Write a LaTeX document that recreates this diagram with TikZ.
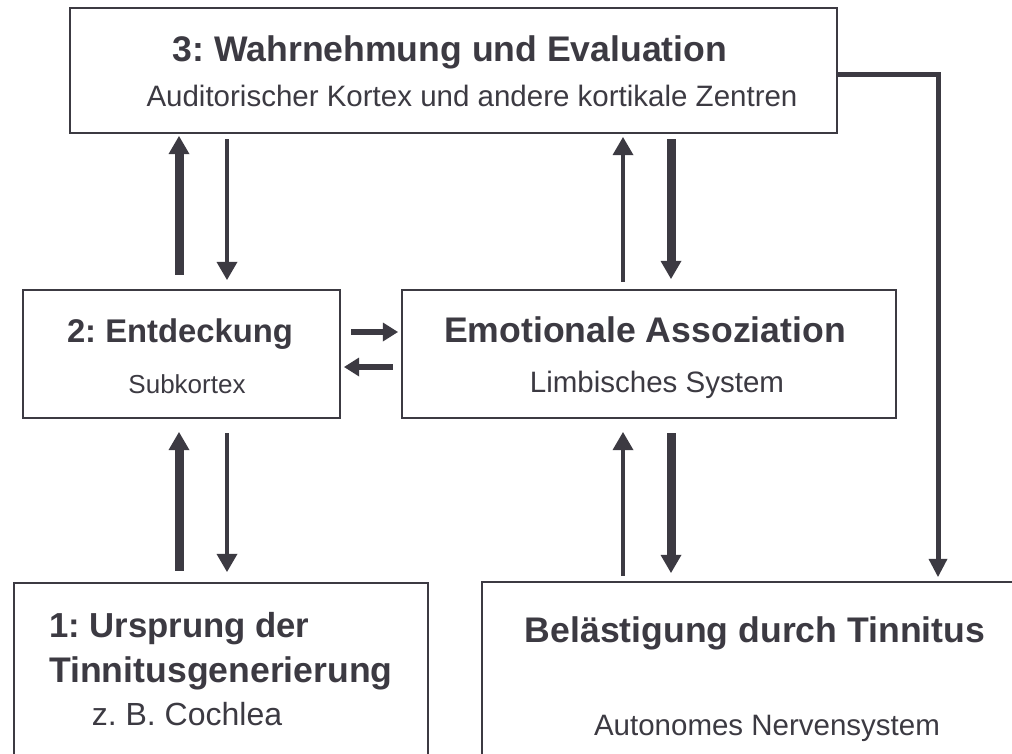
\documentclass[tikz,border=0pt]{standalone}
\usepackage{fontspec}
\setmainfont{Liberation Sans}
\usetikzlibrary{arrows.meta}
\frenchspacing

\definecolor{ink}{RGB}{60,58,66}

\tikzset{
  box/.style={draw=ink, line width=2.2pt, inner sep=0pt},
  title/.style={anchor=base, text=ink, inner sep=0pt, font=\bfseries\fontsize{35.6}{40}\selectfont},
  sub/.style={anchor=base, text=ink, inner sep=0pt, font=\fontsize{29.5}{34}\selectfont},
  fat/.style={draw=ink, line width=9pt, ->, >={Triangle[width=21pt,length=18pt,line width=0pt]}},
  slim/.style={draw=ink, line width=4.5pt, ->, >={Triangle[width=21pt,length=18pt,line width=0pt]}},
  mid/.style={draw=ink, line width=6pt, ->, >={Triangle[width=19pt,length=15pt,line width=0pt]}},
  wire/.style={draw=ink, line width=5pt, ->, >={Triangle[width=19pt,length=18pt,line width=0pt]}},
}

\begin{document}
\begin{tikzpicture}[x=1pt, y=-1pt]
\useasboundingbox (0,0) rectangle (1012,754);
\fill[white] (0,0) rectangle (1012,754);

% boxes
\node[box, minimum width=767pt, minimum height=125pt] (b3) at (453.5,70.5) {};
\node[box, minimum width=317pt, minimum height=128pt] (b2) at (181.5,354) {};
\node[box, minimum width=494pt, minimum height=128pt] (bE) at (649,354) {};
\node[box, minimum width=414pt, minimum height=197pt] (b1) at (221,681.5) {};
\node[box, minimum width=538pt, minimum height=198pt] (bB) at (751,681) {};

% texts
\node[title] (t3) at (450,62) {3: Wahrnehmung und Evaluation};
\node[sub] (s3) at (472,107) {Auditorischer Kortex und andere kortikale Zentren};
\node[title, font=\bfseries\fontsize{32.8}{38}\selectfont] (t2) at (180,342) {2: Entdeckung};
\node[sub, font=\fontsize{26}{30}\selectfont] (s2) at (187,393) {Subkortex};
\node[title] (tE) at (645,342) {Emotionale Assoziation};
\node[sub] (sE) at (657,392) {Limbisches System};
\node[title, anchor=base west, font=\bfseries\fontsize{34.7}{40}\selectfont] (t1a) at (49,637) {1: Ursprung der};
\node[title, anchor=base west] (t1b) at (49,682) {Tinnitusgenerierung};
\node[sub, font=\fontsize{32}{36}\selectfont] (s1) at (187,725) {z. B. Cochlea};
\node[title] (tB) at (755,642) {Belästigung durch Tinnitus};
\node[sub] (sB) at (767,735) {Autonomes Nervensystem};

% columns and rows of the arrows
\coordinate (cA) at (179,0);
\coordinate (cB) at (227,0);
\coordinate (cC) at (623,0);
\coordinate (cD) at (671,0);
\coordinate (r1) at (0,332);
\coordinate (r2) at (0,367);
\coordinate (bend) at (938,75);

% vertical arrows
\draw[fat, shorten <=14pt, shorten >=2pt] (b2.north -| cA) -- (b3.south -| cA);
\draw[slim, shorten <=5pt, shorten >=9pt] (b3.south -| cB) -- (b2.north -| cB);
\draw[fat, shorten <=11pt, shorten >=13pt] (b1.north -| cA) -- (b2.south -| cA);
\draw[slim, shorten <=14pt, shorten >=10pt] (b2.south -| cB) -- (b1.north -| cB);
\draw[slim, shorten <=7pt, shorten >=3pt] (bE.north -| cC) -- (b3.south -| cC);
\draw[fat, shorten <=5pt, shorten >=10pt] (b3.south -| cD) -- (bE.north -| cD);
\draw[slim, shorten <=5pt, shorten >=13pt] (bB.north -| cC) -- (bE.south -| cC);
\draw[fat, shorten <=14pt, shorten >=8pt] (bE.south -| cD) -- (bB.north -| cD);

% horizontal arrows
\draw[mid, shorten <=10pt, shorten >=3pt] (b2.east |- r1) -- (bE.west |- r1);
\draw[mid, shorten <=8pt, shorten >=3pt] (bE.west |- r2) -- (b2.east |- r2);

% feedback line
\draw[wire, shorten >=4pt] (b3.east |- bend) -- (bend) -- (bB.north -| bend);
\end{tikzpicture}
\end{document}
